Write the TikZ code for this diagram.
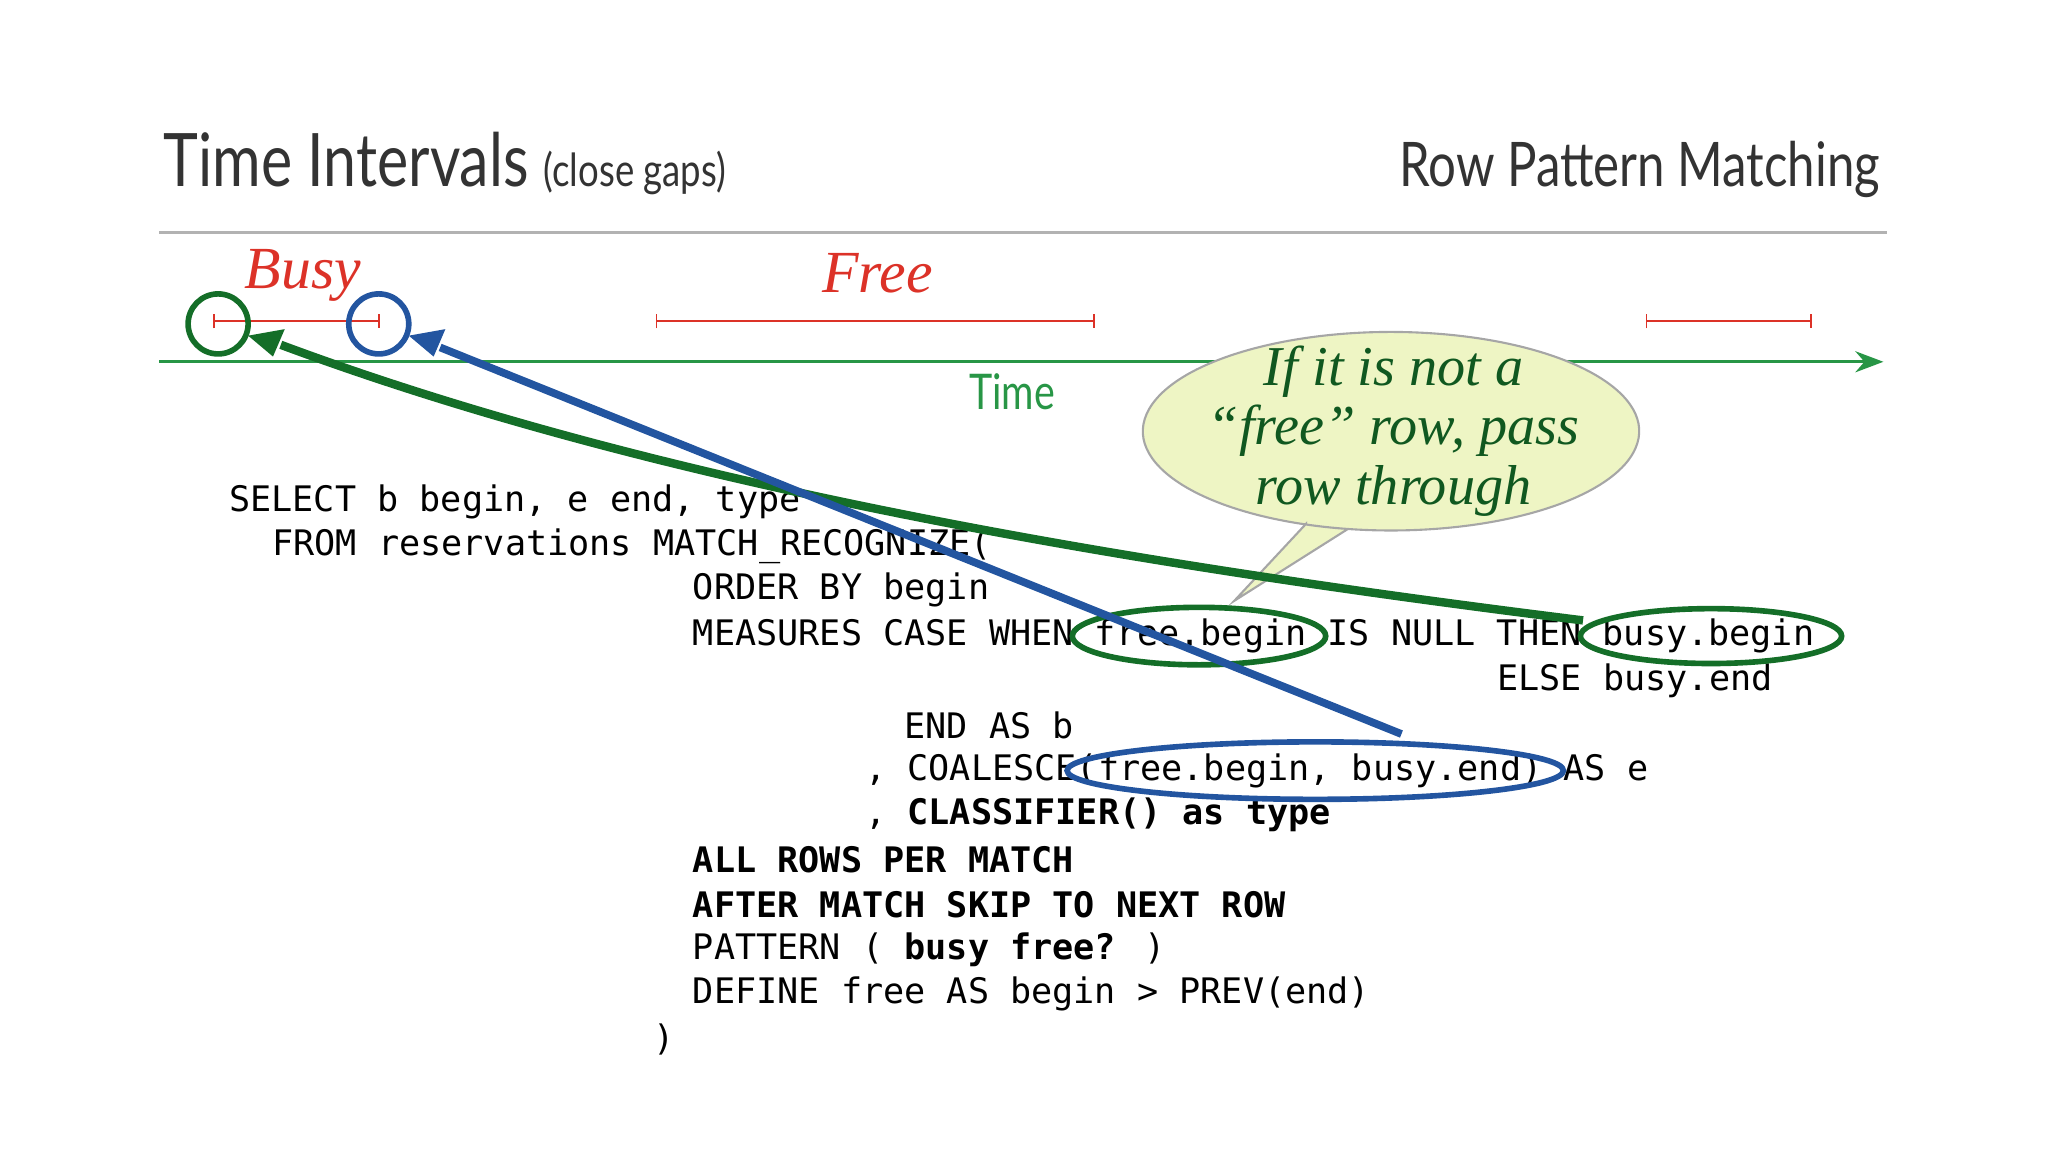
\documentclass[tikz,border=0pt]{standalone}
\usepackage{fontspec}
\setmainfont{Lato}
\newfontfamily\titlefont[FakeStretch=0.8]{Lato}
\newfontfamily\codefont{DejaVu Sans Mono}
\newfontfamily\handfont{Liberation Serif}
\usetikzlibrary{arrows.meta}
\definecolor{dgreen}{RGB}{20,110,40}
\definecolor{lgreen}{RGB}{40,150,70}
\definecolor{dblue}{RGB}{35,85,160}
\definecolor{hred}{RGB}{220,50,40}
\definecolor{bubble}{RGB}{238,245,196}
\tikzset{
 code/.style={anchor=west,inner sep=0pt,font=\codefont\fontsize{10pt}{12pt}\selectfont},
 hand/.style={inner sep=0pt,text=hred,font=\handfont\itshape\fontsize{17pt}{20pt}\selectfont},
 ival/.style={hred,line width=0.5pt,{Bar[width=4pt]}-{Bar[width=4pt]}},
 gring/.style={dgreen,line width=1.6pt},
 bring/.style={dblue,line width=1.6pt},
}
\begin{document}
\begin{tikzpicture}[x=0.013061cm,y=-0.013061cm]
\useasboundingbox (0,0) rectangle (1568,882);
% titles
\node[anchor=base west,inner sep=0pt,text=black!80] (title) at (125,143) {\titlefont\fontsize{21pt}{24pt}\selectfont Time Intervals \fontsize{13pt}{15pt}\selectfont (close gaps)};
\node[anchor=base east,inner sep=0pt,text=black!80] (rpm) at (1440,143) {\titlefont\fontsize{17.5pt}{20pt}\selectfont Row Pattern Matching};
\draw[black!30,line width=0.6pt] (122,178) -- (1445,178);
% time axis
\coordinate (ax0) at (122,277); \coordinate (ax1) at (1442,277);
\draw[lgreen,line width=0.8pt,-{Stealth[length=8pt,width=6pt]}] (ax0) -- (ax1);
\node[text=lgreen,font=\titlefont\fontsize{14pt}{16pt}\selectfont,inner sep=0pt] (time) at (775,300) {Time};
% intervals
\draw[ival] (163,246) -- (291,246);
\draw[ival] (502,246) -- (838,246);
\draw[ival] (1260,246) -- (1387,246);
\node[hand] (busy) at (232,211) {Busy};
\node[hand] (free) at (672,209) {Free};
% bubble
\draw[black!35,fill=bubble,line width=0.6pt] (1000,401) -- (945,460) -- (1032,405) arc[start angle=100,end angle=470,x radius=190,y radius=76] -- cycle;
\node[align=center,font=\handfont\itshape\fontsize{16pt}{19pt}\selectfont,text=dgreen!80!black,inner sep=0pt] (bt) at (1067,330) {If it is not a\\[-2pt] “free” row, pass\\[-2pt] row through};
% code
\node[code] (l1) at (175,384) {SELECT b begin, e end, type};
\node[code] (l2) at (208,418) {FROM reservations MATCH\_RECOGNIZE(};
\node[code] (l3) at (530,452) {ORDER BY begin};
\node[code] (l4) at (530,487) {MEASURES CASE WHEN free.begin IS NULL THEN busy.begin};
\node[code] (l5) at (1146,521) {ELSE busy.end};
\node[code] (l6) at (692,555) {END AS b};
\node[code] (l7) at (662,590) {, COALESCE(free.begin, busy.end) AS e};
\node[code] (l8) at (662,624) {, \textbf{CLASSIFIER() as type}};
\node[code] (l9) at (530,658) {\textbf{ALL ROWS PER MATCH}};
\node[code] (l10) at (530,693) {\textbf{AFTER MATCH SKIP TO NEXT ROW}};
\node[code] (l11) at (530,727) {PATTERN ( \textbf{busy free?} )};
\node[code] (l12) at (530,761) {DEFINE free AS begin > PREV(end)};
\node[code] (l13) at (500,796) {)};
% circles
\node[circle,draw=dgreen,line width=1.6pt,minimum size=46pt*0.3713,inner sep=0pt] (c1) at (167,248) {};
\node[circle,draw=dblue,line width=1.6pt,minimum size=46pt*0.3713,inner sep=0pt] (c2) at (290,248) {};
% ellipses
\draw[gring] (918,487) ellipse [x radius=97,y radius=22];
\draw[gring] (1310,487) ellipse [x radius=100,y radius=21];
\draw[bring] (1007,590) ellipse [x radius=190,y radius=22];
% connectors
\coordinate (gs) at (215,264); \coordinate (ge) at (1212,475);
\coordinate (bs) at (337,266); \coordinate (be) at (1073,562);
\draw[dgreen,line width=2.4pt] (gs) .. controls (500,370) and (850,430) .. (ge);
\draw[dblue,line width=2.2pt] (bs) -- (be);
\fill[dgreen] (190,257) -- (218,252) -- (209,273) -- cycle;
\fill[dblue] (313,257) -- (341,252) -- (332,273) -- cycle;
\end{tikzpicture}
\end{document}
